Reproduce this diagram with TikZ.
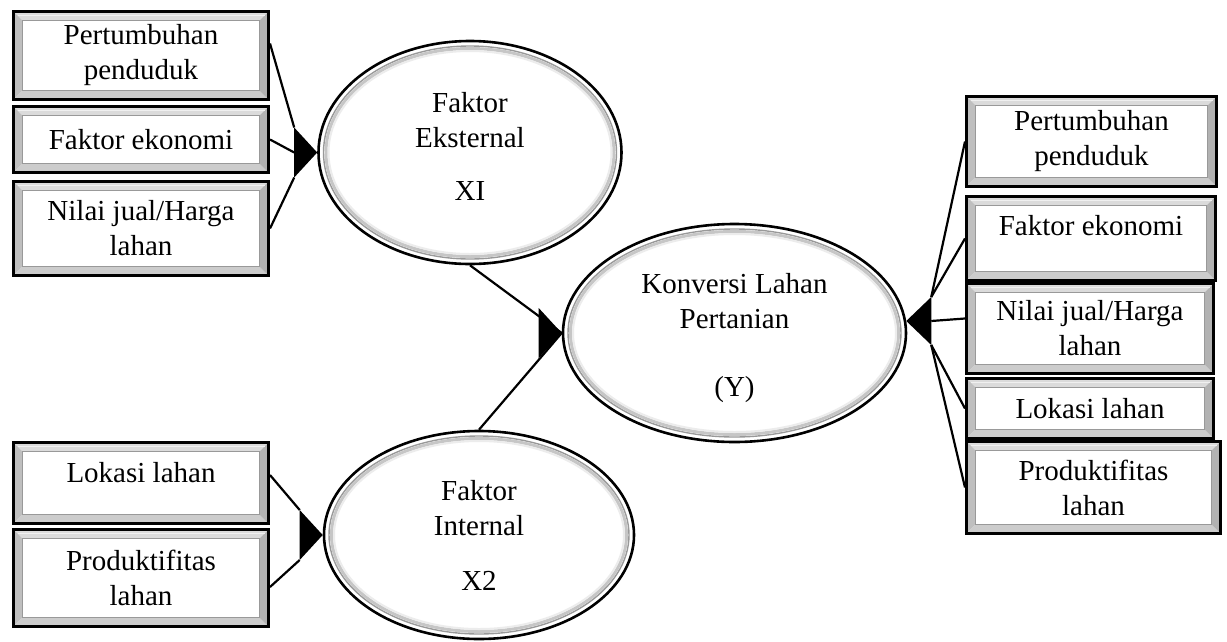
\documentclass[tikz,border=0pt]{standalone}
\usepackage{fontspec}
\setmainfont{Liberation Serif}
\usetikzlibrary{calc,shapes.geometric}
\tikzset{
  txt/.style={font=\fontsize{29pt}{35pt}\selectfont, align=center},
  bevelbox/.style 2 args={txt, rectangle, draw=black, line width=3pt, fill=white,
    inner sep=0pt, minimum width=#1, minimum height=#2,
    path picture={
      \fill[gray!28] (path picture bounding box.north west) -- (path picture bounding box.north east)
        -- ([shift={(-9pt,-9pt)}]path picture bounding box.north east) -- ([shift={(9pt,-9pt)}]path picture bounding box.north west) -- cycle;
      \fill[gray!50] (path picture bounding box.north west) -- (path picture bounding box.south west)
        -- ([shift={(9pt,9pt)}]path picture bounding box.south west) -- ([shift={(9pt,-9pt)}]path picture bounding box.north west) -- cycle;
      \fill[gray!40] (path picture bounding box.south west) -- (path picture bounding box.south east)
        -- ([shift={(-9pt,9pt)}]path picture bounding box.south east) -- ([shift={(9pt,9pt)}]path picture bounding box.south west) -- cycle;
      \fill[gray!60] (path picture bounding box.north east) -- (path picture bounding box.south east)
        -- ([shift={(-9pt,9pt)}]path picture bounding box.south east) -- ([shift={(-9pt,-9pt)}]path picture bounding box.north east) -- cycle;
      \draw[gray!12, line width=1pt] ([shift={(4pt,-4pt)}]path picture bounding box.north west) -- ([shift={(-4pt,-4pt)}]path picture bounding box.north east);
      \draw[gray!80, line width=0.8pt] ([shift={(9pt,-9pt)}]path picture bounding box.north west) rectangle ([shift={(-9pt,9pt)}]path picture bounding box.south east);
    }},
  ringed/.style 2 args={txt, ellipse, draw=black, line width=2.6pt, fill=white, inner sep=0pt,
    minimum width=2*#1, minimum height=2*#2,
    path picture={
      \draw[gray!80, line width=1.4pt] (path picture bounding box.center) ellipse [x radius=#1-5pt, y radius=#2-5pt];
      \draw[gray!45, line width=3pt] (path picture bounding box.center) ellipse [x radius=#1-7.5pt, y radius=#2-7.5pt];
      \draw[gray!15, line width=2pt] (path picture bounding box.center) ellipse [x radius=#1-10pt, y radius=#2-10pt];
    }},
  conn/.style={draw=black, line width=2.2pt},
}
\begin{document}
\begin{tikzpicture}[x=1pt, y=-1pt]
\useasboundingbox (0,0) rectangle (1227,641);
% left top boxes
\node[bevelbox={255pt}{88pt}] (L1) at (141,55.5) {Pertumbuhan\\penduduk};
\node[bevelbox={255pt}{66pt}] (L2) at (141,139.5) {Faktor ekonomi};
\node[bevelbox={255pt}{94pt}] (L3) at (141,228.5) {Nilai jual/Harga\\lahan};
% left bottom boxes
\node[bevelbox={255pt}{81pt}] (L4) at (141,483) {Lokasi lahan\\[-13pt]\mbox{}};
\node[bevelbox={255pt}{97pt}] (L5) at (141,578) {Produktifitas\\lahan};
% right boxes
\node[bevelbox={250pt}{90pt}] (R1) at (1091.5,141.5) {Pertumbuhan\\penduduk};
\node[bevelbox={249pt}{84pt}] (R2) at (1091,238.5) {Faktor ekonomi\\[-9pt]\mbox{}};
\node[bevelbox={247pt}{90pt}] (R3) at (1090,328.5) {Nilai jual/Harga\\lahan};
\node[bevelbox={247pt}{60pt}] (R4) at (1090,408.5) {Lokasi lahan};
\node[bevelbox={254pt}{92pt}] (R5) at (1093.5,487.5) {Produktifitas\\lahan};
% ellipses
\node[ringed={151.5pt}{111.5pt}] (XI) at (470,152.5) {Faktor\\Eksternal\\[18pt]XI\rule[-13pt]{0pt}{0pt}};
\node[ringed={171.5pt}{109pt}] (Y) at (734.5,333) {\rule{0pt}{30pt}Konversi Lahan\\Pertanian\\[33pt](Y)};
\node[ringed={155pt}{104pt}] (X2) at (479,535) {Faktor\\Internal\\[20pt]X2};
% arrow base coordinates
\coordinate (XIbt) at ([shift={(-23pt,25pt)}]XI.west);
\coordinate (XIbm) at ([xshift=-23pt]XI.west);
\coordinate (XIbb) at ([shift={(-23pt,-25pt)}]XI.west);
\coordinate (X2bt) at ([shift={(-23pt,25pt)}]X2.west);
\coordinate (X2bb) at ([shift={(-23pt,-25pt)}]X2.west);
\coordinate (Ytip) at (Y.4);
\coordinate (Ybt) at ([shift={(25pt,24pt)}]Ytip);
\coordinate (Ybm) at ([xshift=25pt]Ytip);
\coordinate (Ybb) at ([shift={(25pt,-24pt)}]Ytip);
% connectors
\draw[conn] ([yshift=12pt]L1.east) -- (XIbt);
\draw[conn] (L2.east) -- (XIbm);
\draw[conn] (L3.east) -- (XIbb);
\draw[conn] ([yshift=8pt]L4.east) -- (X2bt);
\draw[conn] ([yshift=-9pt]L5.east) -- (X2bb);
\draw[conn] (XI.south) -- (Y.west);
\draw[conn] (X2.north) -- (Y.west);
\draw[conn] (R1.west) -- (Ybt);
\draw[conn] (R2.west) -- (Ybt);
\draw[conn] ([yshift=10pt]R3.west) -- (Ybm);
\draw[conn] (R4.west) -- (Ybb);
\draw[conn] (R5.west) -- (Ybb);
% arrowheads
\fill (XI.west) -- (XIbt) -- (XIbb) -- cycle;
\fill (X2.west) -- (X2bt) -- (X2bb) -- cycle;
\fill (Y.west) -- ++(-23pt,25pt) -- ++(0,-50pt) -- cycle;
\fill (Ytip) -- (Ybt) -- (Ybb) -- cycle;
\end{tikzpicture}
\end{document}
